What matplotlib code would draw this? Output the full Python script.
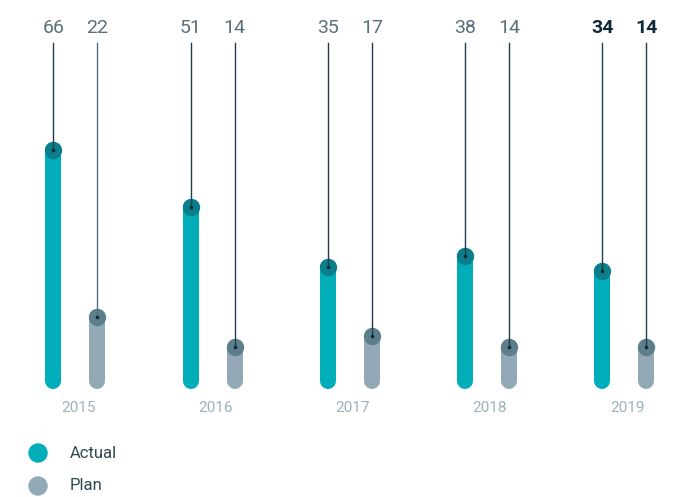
import matplotlib
matplotlib.use("Agg")
import matplotlib.pyplot as plt

years = ["2015", "2016", "2017", "2018", "2019"]
actual = [66, 51, 35, 38, 34]
plan = [22, 14, 17, 14, 14]

C_ACT = "#00adb9"
C_ACT_TOP = "#0a7e8b"
C_PLAN = "#93aab6"
C_PLAN_TOP = "#5f7e8c"
C_LINE = "#1d3d4a"
C_LABEL = "#5b6f79"
C_BOLD = "#0f2a36"
C_YEAR = "#9db1bb"

plt.rcParams['font.family'] = ['Roboto', 'DejaVu Sans']

W, H = 677, 497
fig = plt.figure(figsize=(W / 100, H / 100), dpi=100)
ax = fig.add_axes([0, 0, 1, 1])
ax.set_axis_off()

px_per_x = 137.25
x0_px = 75.5
px_per_v = 3.79
zero_px = 400
ax.set_xlim(-x0_px / px_per_x, (W - x0_px) / px_per_x)
ax.set_ylim(-(H - zero_px) / px_per_v, zero_px / px_per_v)

off = 22 / px_per_x
base = 5.0
label_y = (zero_px - 28) / px_per_v
line_top = (zero_px - 43) / px_per_v
year_y = (zero_px - 408) / px_per_v
lw = 16 * 72 / 100

for i, (y, a, p) in enumerate(zip(years, actual, plan)):
    last = i == len(years) - 1
    for xx, v, c, ct, lc in [(i - off, a, C_ACT, C_ACT_TOP, C_LINE),
                             (i + off, p, C_PLAN, C_PLAN_TOP, C_LINE if i > 0 else "#4f6f7b")]:
        ax.plot([xx, xx], [base, v], color=c, lw=lw, solid_capstyle='round', zorder=2)
        ax.plot([xx], [v], 'o', ms=12.5, color=ct, mec='none', zorder=3)
        ax.plot([xx, xx], [v, line_top], color=lc, lw=1.0, zorder=4)
        ax.plot([xx], [v], 'o', ms=2.6, color=C_BOLD, mec='none', zorder=5)
        ax.text(xx, label_y, str(v), ha='center', va='center',
                fontsize=14, color=C_BOLD if last else C_LABEL,
                fontweight='bold' if last else 'normal')
    ax.text(i + 0.02, year_y, y, ha='center', va='center', fontsize=11,
            color=C_YEAR, fontweight='normal')

for k, (name, c) in enumerate([("Actual", C_ACT), ("Plan", C_PLAN)]):
    ypx = 453 + 33 * k
    fig.patches.append(matplotlib.patches.Ellipse((38 / W, 1 - ypx / H), 18 / W, 18 / H,
                                                  transform=fig.transFigure, color=c))
    fig.text(70 / W, 1 - ypx / H, name, ha='left', va='center', fontsize=12, color="#2f4550")

fig.savefig("out.png", dpi=100)
